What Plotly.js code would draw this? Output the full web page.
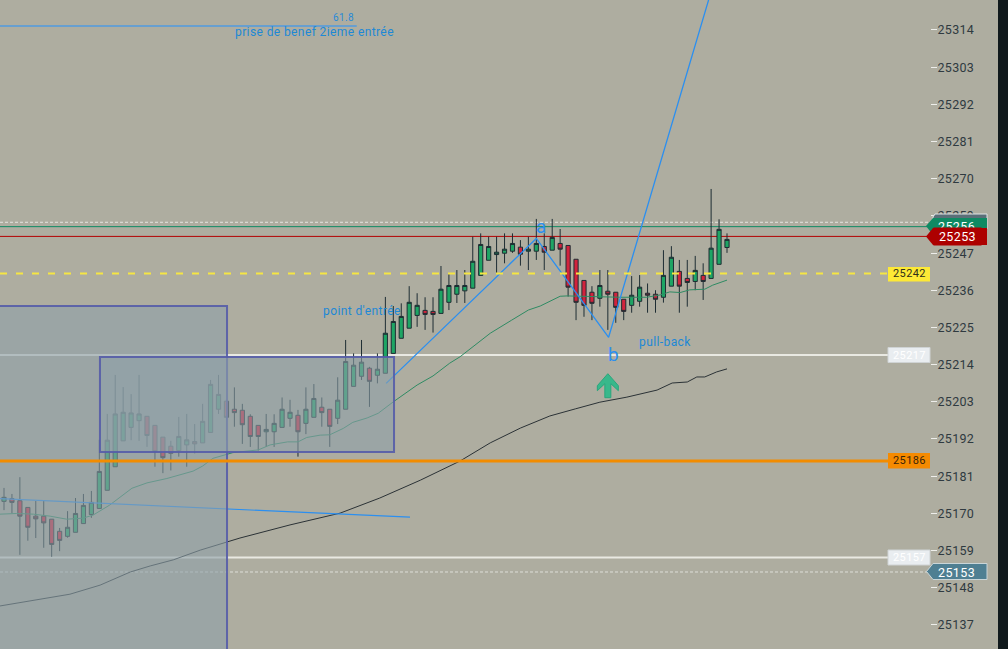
<!DOCTYPE html>
<html>
<head>
<meta charset="utf-8">
<script src="https://cdn.plot.ly/plotly-3.0.1.min.js"></script>
<style>
  html, body { margin: 0; padding: 0; background: #aeada0; }
  #chart { width: 1008px; height: 649px; }
  .annotation-text { letter-spacing: 0.4px; }
  .ytick text { letter-spacing: 0.3px; }
</style>
</head>
<body>
<div id="chart"></div>
<script>
// Candles. Index 0 is the leftmost candle.
const opens = [25173.8,25174.6,25174.0,25172.0,25169.4,25169.4,25168.5,25164.9,25163.4,25164.6,25167.2,25169.9,25171.7,25177.1,25184.1,25191.8,25195.8,25197.8,25199.1,25196.4,25192.9,25190.2,25188.9,25190.6,25191.6,25191.2,25194.3,25201.2,25203.6,25201.2,25200.9,25199.1,25196.4,25194.5,25194.5,25195.8,25198.5,25199.4,25197.0,25198.8,25201.8,25201.2,25198.5,25201.2,25208.0,25211.0,25213.4,25211.3,25211.9,25217.8,25222.3,25225.3,25229.1,25230.6,25230.3,25229.7,25233.0,25235.4,25236.4,25237.2,25241.0,25245.5,25247.2,25247.6,25248.2,25249.4,25248.2,25248.2,25249.6,25248.5,25250.5,25249.9,25245.8,25239.5,25236.0,25234.2,25236.3,25236.0,25233.9,25232.1,25233.3,25235.7,25235.4,25234.5,25237.8,25242.2,25240.1,25239.2,25241.0,25240.1,25244.3,25249.3];
const closes = [25175.0,25173.5,25169.4,25166.1,25168.6,25167.4,25161.0,25162.2,25166.1,25170.2,25172.6,25173.5,25182.7,25192.0,25199.8,25200.3,25200.1,25199.8,25193.4,25188.6,25186.8,25188.1,25193.1,25192.1,25190.9,25197.6,25208.6,25205.6,25198.8,25200.2,25196.6,25193.1,25193.1,25195.2,25197.0,25201.2,25200.3,25194.5,25201.2,25204.4,25200.2,25196.1,25203.9,25215.4,25214.3,25215.2,25209.5,25213.1,25223.8,25227.3,25228.8,25233.0,25232.1,25229.4,25229.4,25236.9,25238.0,25238.0,25238.0,25245.2,25250.2,25249.6,25247.9,25248.8,25250.5,25247.3,25248.8,25250.5,25247.9,25252.3,25248.8,25237.5,25233.0,25232.1,25232.7,25238.0,25235.4,25231.5,25230.3,25235.1,25237.5,25235.1,25233.9,25241.0,25246.4,25237.8,25238.9,25242.5,25239.2,25249.1,25254.7,25251.7];
const highs = [25177.8,25176.0,25181.0,25172.0,25173.9,25173.9,25168.5,25165.9,25170.9,25174.8,25176.0,25176.9,25192.1,25199.8,25211.4,25207.8,25205.7,25211.4,25199.1,25196.4,25192.9,25191.8,25198.9,25199.8,25196.8,25202.8,25209.9,25211.4,25204.0,25207.7,25202.8,25199.7,25196.4,25199.8,25199.7,25204.7,25204.0,25201.0,25207.7,25208.7,25204.7,25201.2,25210.7,25221.8,25217.8,25221.8,25213.8,25217.8,25234.6,25231.9,25232.7,25237.8,25235.7,25234.5,25234.5,25243.8,25241.6,25242.6,25242.6,25252.5,25253.5,25252.5,25252.5,25253.5,25253.5,25251.5,25252.5,25257.8,25253.5,25257.8,25254.8,25249.9,25245.8,25239.5,25237.8,25242.6,25242.6,25236.0,25233.9,25240.8,25241.1,25238.6,25236.6,25248.5,25249.7,25245.6,25245.6,25246.8,25244.6,25266.7,25257.7,25253.5];
const lows = [25171.2,25170.3,25157.9,25162.1,25162.9,25160.0,25157.3,25159.0,25163.0,25164.6,25167.2,25168.9,25171.7,25177.1,25184.1,25191.8,25192.0,25191.8,25190.0,25184.1,25182.2,25183.0,25187.1,25184.1,25188.1,25191.2,25194.3,25199.8,25192.0,25196.0,25190.9,25190.0,25188.9,25190.0,25190.0,25195.8,25196.0,25187.1,25193.8,25198.8,25196.0,25190.0,25196.8,25201.2,25208.0,25209.9,25201.9,25208.9,25211.9,25217.8,25222.3,25225.3,25225.7,25224.8,25224.0,25229.7,25230.7,25232.8,25232.8,25237.2,25241.0,25245.5,25241.6,25244.6,25247.7,25243.9,25242.6,25245.6,25242.6,25248.5,25243.9,25234.7,25227.7,25228.7,25227.7,25231.7,25224.8,25226.9,25227.7,25229.9,25231.7,25229.9,25229.9,25232.9,25237.8,25229.9,25231.7,25236.6,25233.7,25240.1,25244.3,25247.7];

// Moving averages
const fastIdx = [-0.5,1.6,3.7,5.8,7.9,9.9,11.2,13.3,16.1,18,20.5,23.8,25,26.3,28.8,32,33.5,35.7,37,38.1,39.8,41,42.7,43.9,45.7,47.1,49,52,54,56.1,57.4,60.2,61.2,63.9,66,67.5,70,70.9,75,77.5,80.9,82.6,83.8,85.1,86.3,88.2,89.2,91];
const fastPrice = [25170.0,25170.2,25170.0,25169.4,25168.5,25168.8,25169.7,25172.7,25177.7,25179.3,25180.6,25182.8,25184.3,25186.6,25188.3,25189.1,25190.6,25191.5,25191.5,25192.8,25193.5,25193.6,25195.5,25197.3,25198.6,25200.0,25203.4,25208.4,25211.1,25214.9,25216.8,25221.8,25223.8,25227.7,25230.7,25231.9,25234.8,25234.9,25234.6,25234.5,25234.5,25235.2,25236.1,25235.9,25236.7,25236.9,25238.1,25239.6];
const slowIdx = [-0.5,3.3,8.3,12.1,15.9,18.4,21.3,24.7,28.1,29.7,36,42.3,47.3,52.4,57.4,61.2,65,68.7,71.9,75,78.4,82.2,84.1,86,87.2,88.2,89.7,91];
const slowPrice = [25142.7,25144.2,25146.2,25148.9,25152.8,25154.6,25156.4,25159.3,25161.7,25162.9,25166.8,25170.3,25174.8,25180.1,25185.8,25191.2,25195.6,25199.2,25201.3,25203.3,25204.8,25206.9,25209.0,25209.3,25210.8,25210.8,25212.3,25213.2];

// Hand-drawn trend lines
const zigzagIdx = [48.1,67,76.1,90.1];
const zigzagPrice = [25208.9,25252.0,25222.6,25334.2];
const trendIdx = [-0.5,51.1];
const trendPrice = [25174.6,25169.1];
const fibIdx = [-0.5,44.4];
const fibPrice = [25315.2,25315.2];

// Y axis
const tickPrices = [25314,25302.9,25291.9,25280.8,25269.8,25258.7,25247.6,25236.6,25225.5,25214.5,25203.4,25192.4,25181.3,25170.2,25159.2,25148.1,25137.1];
const tickLabels = ["25314","25303","25292","25281","25270","25259","25247","25236","25225","25214","25203","25192","25181","25170","25159","25148","25137"];

// Horizontal levels
const levelLong = 25241.6, levelUpper = 25217.3, levelOrange = 25185.8, levelLower = 25157.1;
const bidDash = 25256.8, askLine = 25255.5, lastLine = 25252.6, lowDash = 25152.8;

// Zones, in candle index and price
const zoneA = { x0: -5, x1: 28.07, top: 25231.9, bottom: 25120 };
const zoneB = { x0: 12.08, x1: 49.09, top: 25216.7, bottom: 25188.5 };
const arrowIdx = 76, arrowPrice = 25208.2;

const PLOT_W = 930, PLOT_H = 649;
const BG = "#aeada0", WICK = "#1e2d33", BLUE = "#2b8ff0", TEXT_BLUE = "#1d88d6";
const FONT = "Roboto, sans-serif";

const px = (x) => x / PLOT_W;
const py = (y) => 1 - y / PLOT_H;

function paperPath(points) {
  return "M" + points.map((p) => px(p[0]) + "," + py(p[1])).join(" L") + " Z";
}
function paperShape(points, fill, lineColor, lineWidth) {
  return {
    type: "path", xref: "paper", yref: "paper", path: paperPath(points),
    fillcolor: fill, line: { color: lineColor || fill, width: lineWidth || 0 },
  };
}
function levelShape(price, x1, color, width, dash, layer) {
  return {
    type: "line", xref: "paper", yref: "y", x0: 0, x1: px(x1), y0: price, y1: price,
    line: { color, width, dash: dash || "solid" }, layer: layer || "above",
  };
}
// Zones are fairly opaque: the candles under them fade out, as in the source
function zoneShape(z) {
  return {
    type: "rect", xref: "x", yref: "y", x0: z.x0, x1: z.x1, y0: z.bottom, y1: z.top,
    fillcolor: "rgba(142,160,168,0.6)", line: { color: "rgba(85,92,168,0.9)", width: 2 },
  };
}
function tagRect(y0, y1, fill, border) {
  return paperShape([[888, y0], [930, y0], [930, y1], [888, y1]], fill, border, border ? 1 : 0);
}
function label(x, y, text, size, color, anchor) {
  return {
    xref: "paper", yref: "paper", x: px(x), y: py(y), text, showarrow: false,
    xanchor: anchor || "center", yanchor: "middle", font: { family: FONT, size, color },
  };
}

const shapes = [
  levelShape(bidDash, 930, "#e6e6e0", 1, "3px,2px", "below"),
  levelShape(askLine, 930, "#0f8a63", 1, "solid", "below"),
  levelShape(lastLine, 930, "#b50000", 1, "solid", "below"),
  levelShape(levelUpper, 888, "#e9e9e2", 2, "solid", "below"),
  levelShape(levelLower, 888, "#e9e9e2", 2, "solid", "below"),
  levelShape(lowDash, 930, "#dfdfd8", 1, "3px,2px", "below"),
  zoneShape(zoneA),
  zoneShape(zoneB),
  levelShape(levelLong, 888, "#f5e642", 2, "7px,9px"),
  levelShape(levelOrange, 888, "#f28c00", 3),
  {
    type: "path", xref: "x", yref: "y", xsizemode: "pixel", ysizemode: "pixel",
    xanchor: arrowIdx, yanchor: arrowPrice,
    path: "M0,12 L10.5,0 L10.5,-5 L3,2 L3,-12 L-3,-12 L-3,2 L-10.5,-5 L-10.5,0 Z",
    fillcolor: "#38b88b", line: { color: "#2aa67c", width: 1 },
  },
  tagRect(267, 281.5, "#fde936"),
  tagRect(347.5, 362.5, "#e9edf0", "#cfd3d4"),
  tagRect(453, 468.5, "#f58a00"),
  tagRect(550, 565, "#e9edf0", "#cfd3d4"),
  paperShape([[935, 214], [987, 214], [987, 229], [933, 229], [933, 217]], "#5b6f78", "#dfe3e5", 1),
  paperShape([[926, 226], [933, 218], [987, 218], [987, 235], [933, 235]], "#0f8a63"),
  paperShape([[926, 236.5], [933, 228], [987, 228], [987, 245], [933, 245]], "#ad0000"),
  paperShape([[926.5, 571.5], [933, 563.5], [987, 563.5], [987, 579.5], [933, 579.5]], "#4f7f92", "#c9d5d8", 1),
  paperShape([[998, 0], [1008, 0], [1008, 649], [998, 649]], "#10191c"),
];

const annotations = [
  label(343, 17.5, "61.8", 10, "#2a8ad8"),
  label(314, 32, "prise de benef 2ieme entrée", 12, TEXT_BLUE),
  label(362, 311, "point d'entrée", 12, TEXT_BLUE),
  label(665, 342, "pull-back", 12, TEXT_BLUE),
  label(541.5, 226, "a", 19, BLUE),
  label(613, 354, "b", 19, BLUE),
  label(909, 274, "25242", 11, "#2f2f1a"),
  label(909, 355, "25217", 11, "#ffffff"),
  label(909, 461, "25186", 11, "#3a2408"),
  label(909, 557.5, "25157", 11, "#ffffff"),
  label(956.5, 226, "25256", 12.5, "#ffffff"),
  // red body is an annotation box so that it hides the lower half of 25256
  {
    xref: "paper", yref: "paper", x: px(933), y: py(236.5), xanchor: "left", yanchor: "middle",
    text: "25253", showarrow: false, width: 47, height: 17, bgcolor: "#ad0000", borderpad: 0,
    font: { family: FONT, size: 12.5, color: "#ffffff" },
  },
  label(956.5, 572, "25153", 12.5, "#ffffff"),
];

const data = [
  {
    type: "scatter", mode: "lines", x: fibIdx, y: fibPrice, hoverinfo: "skip",
    line: { color: "#4f9be0", width: 1.5 },
  },
  {
    type: "scatter", mode: "lines", x: slowIdx, y: slowPrice, hoverinfo: "skip",
    line: { color: "#2b3236", width: 1 },
  },
  {
    type: "scatter", mode: "lines", x: fastIdx, y: fastPrice, hoverinfo: "skip",
    line: { color: "#2e8b63", width: 1 },
  },
  {
    type: "candlestick", x: opens.map((_, i) => i),
    open: opens, high: highs, low: lows, close: closes, whiskerwidth: 0,
    increasing: { line: { color: WICK, width: 1 }, fillcolor: "#1ea564" },
    decreasing: { line: { color: WICK, width: 1 }, fillcolor: "#d2233c" },
  },
  {
    type: "scatter", mode: "lines", x: zigzagIdx, y: zigzagPrice, hoverinfo: "skip",
    line: { color: BLUE, width: 1.3 },
  },
  {
    type: "scatter", mode: "lines", x: trendIdx, y: trendPrice, hoverinfo: "skip",
    line: { color: BLUE, width: 1.2 },
  },
];

const layout = {
  width: 1008,
  height: 649,
  margin: { l: 0, r: 78, t: 0, b: 0, pad: 0 },
  paper_bgcolor: BG,
  plot_bgcolor: BG,
  showlegend: false,
  dragmode: false,
  boxgap: 0.25,
  xaxis: {
    visible: false, type: "linear", range: [-0.503, 116.55],
    rangeslider: { visible: false }, fixedrange: true,
  },
  yaxis: {
    side: "right", range: [25129.9, 25322.9], tickmode: "array",
    tickvals: tickPrices, ticktext: tickLabels,
    ticks: "outside", ticklen: 6, tickwidth: 1, tickcolor: "#eeeeea", ticklabelstandoff: -2,
    tickfont: { family: FONT, size: 12.5, color: "#2f3a40" },
    showgrid: false, zeroline: false, showline: false, fixedrange: true,
  },
  shapes,
  annotations,
};

Plotly.newPlot("chart", data, layout, { displayModeBar: false, responsive: false });
</script>
</body>
</html>
